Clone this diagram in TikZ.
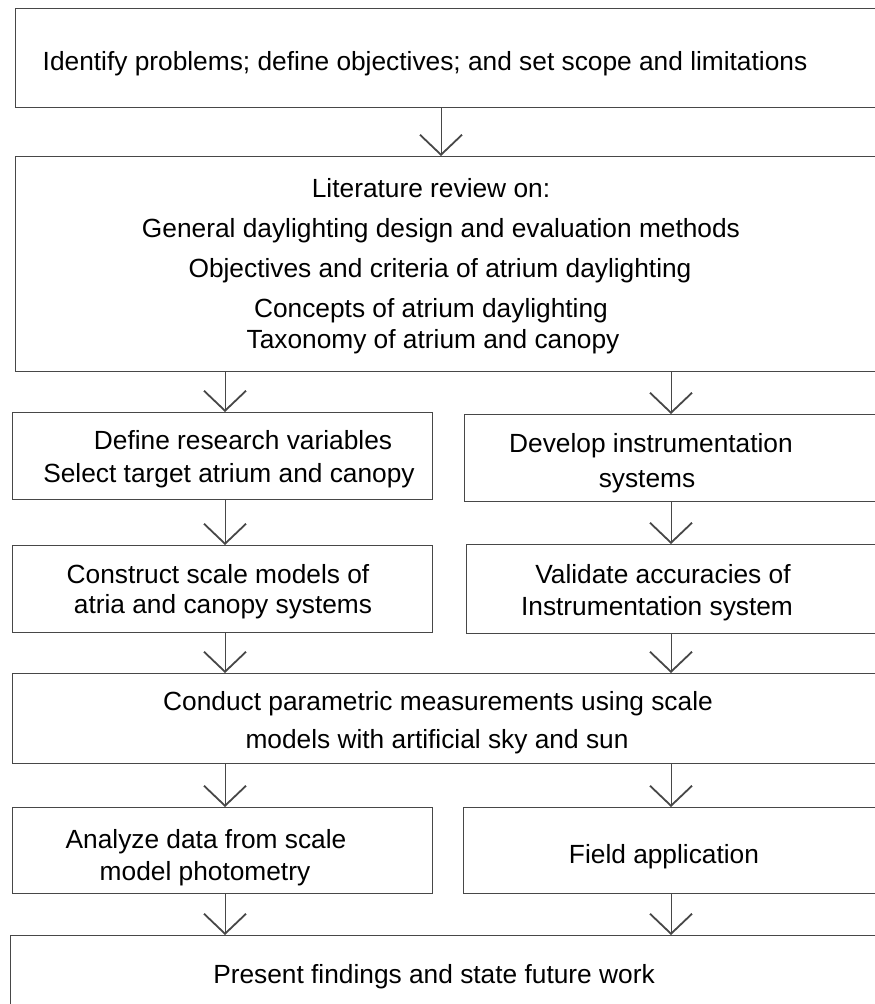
\documentclass[tikz,border=0pt]{standalone}
\usepackage{fontspec}
\setmainfont{Liberation Sans}
\usetikzlibrary{arrows.meta}
\begin{document}
\begin{tikzpicture}[x=1pt,y=-1pt,
  box/.style={draw=black!72, line width=1.2pt, rectangle, inner sep=0pt, anchor=north west},
  txt/.style={font=\fontsize{26.3}{30}\selectfont, inner sep=0pt, anchor=base},
  arr/.style={draw=black!72, line width=0.9pt, -{Straight Barb[length=20pt,width=42pt,line width=1.8pt]}}]
\useasboundingbox (0,0) rectangle (875,1004);
\clip (0,0) rectangle (875,1004);
\newcommand\mybox[5]{\node[box, minimum width=#4-#2, minimum height=#5-#3] (#1) at (#2,#3) {};}
\mybox{b1}{15}{8}{890}{107}
\mybox{b2}{15}{156}{890}{371}
\mybox{b3}{12}{412}{432}{499}
\mybox{b4}{464}{414}{890}{501}
\mybox{b5}{12}{545}{432}{632}
\mybox{b6}{466}{544}{890}{633}
\mybox{b7}{12}{673}{890}{763}
\mybox{b8}{12}{807}{432}{893}
\mybox{b9}{463}{807}{890}{893}
\mybox{b10}{10}{935}{890}{1020}
% texts
\node[txt] (t1) at (425,70) {Identify problems; define objectives; and set scope and limitations};
\node[txt] (t2a) at (431,197) {Literature review on:};
\node[txt] (t2b) at (441,237) {General daylighting design and evaluation methods};
\node[txt] (t2c) at (440,277) {Objectives and criteria of atrium daylighting};
\node[txt] (t2d) at (431,317) {Concepts of atrium daylighting};
\node[txt] (t2e) at (433,348) {Taxonomy of atrium and canopy};
\node[txt] (t3a) at (243,449) {Define research variables};
\node[txt] (t3b) at (229,482) {Select target atrium and canopy};
\node[txt] (t4a) at (651,452) {Develop instrumentation};
\node[txt] (t4b) at (647,487) {systems};
\node[txt] (t5a) at (218,583) {Construct scale models of};
\node[txt] (t5b) at (223,613) {atria and canopy systems};
\node[txt] (t6a) at (663,583) {Validate accuracies of};
\node[txt] (t6b) at (657,615) {Instrumentation system};
\node[txt] (t7a) at (438,710) {Conduct parametric measurements using scale};
\node[txt] (t7b) at (437,748) {models with artificial sky and sun};
\node[txt] (t8a) at (206,848) {Analyze data from scale};
\node[txt] (t8b) at (205,880) {model photometry};
\node[txt] (t9) at (664,863) {Field application};
\node[txt] (t10) at (434,983) {Present findings and state future work};
% connectors
\coordinate (M) at (441,0);
\coordinate (L) at (225,0);
\coordinate (R) at (671,0);
\draw[arr] (b1.south -| M) -- (b2.north -| M);
\draw[arr] (b2.south -| L) -- (b3.north -| L);
\draw[arr] (b2.south -| R) -- (b4.north -| R);
\draw[arr] (b3.south -| L) -- (b5.north -| L);
\draw[arr] (b4.south -| R) -- (b6.north -| R);
\draw[arr] (b5.south -| L) -- (b7.north -| L);
\draw[arr] (b6.south -| R) -- (b7.north -| R);
\draw[arr] (b7.south -| L) -- (b8.north -| L);
\draw[arr] (b7.south -| R) -- (b9.north -| R);
\draw[arr] (b8.south -| L) -- (b10.north -| L);
\draw[arr] (b9.south -| R) -- (b10.north -| R);
\end{tikzpicture}
\end{document}
